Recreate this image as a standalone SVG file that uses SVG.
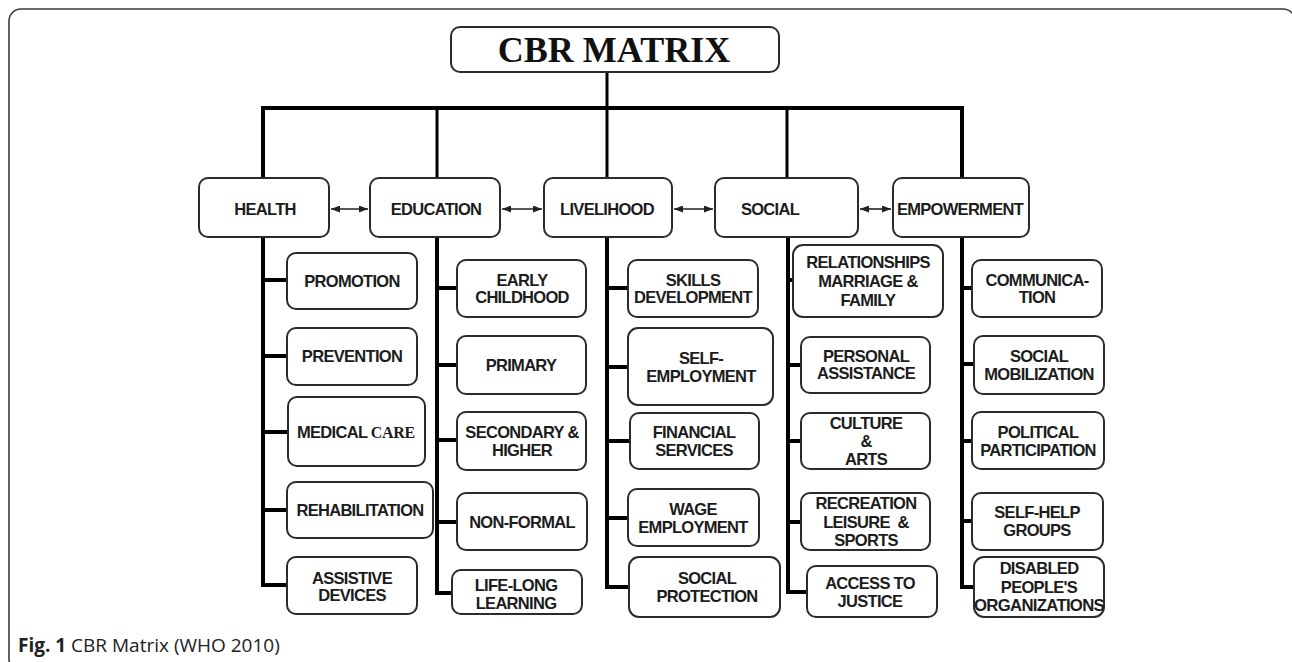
<svg xmlns="http://www.w3.org/2000/svg" width="1292" height="662" viewBox="0 0 1292 662">
<style>
.frame{fill:none;stroke:#3a3a3a;stroke-width:1.6}
.box{fill:#fff;stroke:#2b2b2b;stroke-width:2}
.t{font-family:"Liberation Sans",Arial,sans-serif;font-weight:bold;font-size:16.5px;letter-spacing:-0.7px;fill:#1c1c1c;text-anchor:middle}
.title{font-family:"Liberation Serif","Times New Roman",serif;font-weight:bold;font-size:36px;fill:#111;text-anchor:middle}
.serif{font-family:"Liberation Serif","Times New Roman",serif;font-size:16px;letter-spacing:-0.3px}
.bus{fill:none;stroke:#000;stroke-width:4}
.drop{fill:none;stroke:#000;stroke-width:3}
.trunk{fill:none;stroke:#000;stroke-width:4}
.arr{stroke:#222;stroke-width:1.6;fill:none;marker-start:url(#ah);marker-end:url(#ah)}
.cap{font-family:"Open Sans","Noto Sans",sans-serif;font-size:19px;fill:#222}
</style>
<defs>
<marker id="ah" viewBox="0 0 9 7" refX="9" refY="3.5" markerWidth="9" markerHeight="7" markerUnits="userSpaceOnUse" orient="auto-start-reverse">
<path d="M0,0 L9,3.5 L0,7 z" fill="#222"/>
</marker>
</defs>
<rect class="frame" x="9" y="9" width="1286" height="662" rx="12"/>

<g id="connectors">
<path class="drop" d="M607,72 V108"/>
<path class="bus" d="M263,178 V108 H962 V178"/>
<path class="drop" d="M437,108 V178 M607,108 V178 M787,108 V178"/>
<line class="arr" x1="331" y1="209" x2="368" y2="209"/>
<line class="arr" x1="502" y1="209" x2="542" y2="209"/>
<line class="arr" x1="674" y1="209" x2="713" y2="209"/>
<line class="arr" x1="860" y1="209" x2="891" y2="209"/>
<path class="trunk" d="M263,237 V585 H287 M263,280 H287 M263,356 H287 M263,432 H288 M263,510 H287"/>
<path class="trunk" d="M437,237 V593 H452 M437,288 H457 M437,365 H457 M437,440 H457 M437,522 H457"/>
<path class="trunk" d="M607,237 V587 H629 M607,288 H628 M607,367 H628 M607,441 H630 M607,518 H628"/>
<path class="trunk" d="M788,237 V592 H807 M788,280 H793 M788,365 H801 M788,441 H801 M788,522 H801"/>
<path class="trunk" d="M962,237 V587 H974 M962,288 H972 M962,364 H974 M962,441 H972 M962,521 H972"/>
</g>

<g id="title">
<rect class="box" x="451" y="27" width="328" height="45" rx="9"/>
<text class="title" x="614" y="62">CBR MATRIX</text>
</g>

<g id="health"><rect class="box" x="199" y="178" width="130" height="59" rx="9"/><text class="t" x="265" y="215">HEALTH</text></g>
<g id="education"><rect class="box" x="370" y="178" width="130" height="59" rx="9"/><text class="t" x="436" y="215">EDUCATION</text></g>
<g id="livelihood"><rect class="box" x="544" y="178" width="128" height="59" rx="9"/><text class="t" x="607" y="215">LIVELIHOOD</text></g>
<g id="social"><rect class="box" x="715" y="178" width="143" height="59" rx="9"/><text class="t" x="770" y="215">SOCIAL</text></g>
<g id="empowerment"><rect class="box" x="893" y="178" width="136" height="59" rx="9"/><text class="t" x="960" y="215">EMPOWERMENT</text></g>

<g id="promotion"><rect class="box" x="287" y="253" width="130" height="56" rx="9"/><text class="t" x="352" y="287">PROMOTION</text></g>
<g id="prevention"><rect class="box" x="287" y="328" width="130" height="57" rx="9"/><text class="t" x="352" y="362">PREVENTION</text></g>
<g id="medical-care"><rect class="box" x="288" y="397" width="137" height="69" rx="9"/><text class="t" x="356" y="438">MEDICAL <tspan class="serif">CARE</tspan></text></g>
<g id="rehabilitation"><rect class="box" x="287" y="482" width="146" height="56" rx="9"/><text class="t" x="360" y="516">REHABILITATION</text></g>
<g id="assistive-devices"><rect class="box" x="287" y="557" width="130" height="57" rx="9"/><text class="t" x="352" y="584">ASSISTIVE</text><text class="t" x="352" y="601">DEVICES</text></g>

<g id="early-childhood"><rect class="box" x="457" y="260" width="129" height="57" rx="9"/><text class="t" x="522" y="286">EARLY</text><text class="t" x="522" y="303">CHILDHOOD</text></g>
<g id="primary"><rect class="box" x="457" y="336" width="129" height="58" rx="9"/><text class="t" x="521" y="371">PRIMARY</text></g>
<g id="secondary-higher"><rect class="box" x="457" y="412" width="129" height="58" rx="9"/><text class="t" x="522" y="438">SECONDARY &amp;</text><text class="t" x="522" y="456">HIGHER</text></g>
<g id="non-formal"><rect class="box" x="457" y="493" width="130" height="57" rx="9"/><text class="t" x="522" y="528">NON-FORMAL</text></g>
<g id="life-long-learning"><rect class="box" x="452" y="570" width="130" height="44" rx="9"/><text class="t" x="516" y="591">LIFE-LONG</text><text class="t" x="516" y="609">LEARNING</text></g>

<g id="skills-development"><rect class="box" x="628" y="260" width="130" height="57" rx="9"/><text class="t" x="693" y="286">SKILLS</text><text class="t" x="693" y="303">DEVELOPMENT</text></g>
<g id="self-employment"><rect class="box" x="628" y="328" width="145" height="77" rx="10"/><text class="t" x="701" y="364">SELF-</text><text class="t" x="701" y="382">EMPLOYMENT</text></g>
<g id="financial-services"><rect class="box" x="630" y="413" width="129" height="56" rx="9"/><text class="t" x="694" y="438">FINANCIAL</text><text class="t" x="694" y="456">SERVICES</text></g>
<g id="wage-employment"><rect class="box" x="628" y="489" width="131" height="57" rx="9"/><text class="t" x="693" y="515">WAGE</text><text class="t" x="693" y="533">EMPLOYMENT</text></g>
<g id="social-protection"><rect class="box" x="629" y="557" width="151" height="60" rx="10"/><text class="t" x="707" y="584">SOCIAL</text><text class="t" x="707" y="602">PROTECTION</text></g>

<g id="relationships"><rect class="box" x="793" y="245" width="150" height="72" rx="10"/><text class="t" x="868" y="268">RELATIONSHIPS</text><text class="t" x="868" y="287">MARRIAGE &amp;</text><text class="t" x="868" y="306">FAMILY</text></g>
<g id="personal-assistance"><rect class="box" x="801" y="337" width="129" height="56" rx="9"/><text class="t" x="866" y="362">PERSONAL</text><text class="t" x="866" y="379">ASSISTANCE</text></g>
<g id="culture-arts"><rect class="box" x="801" y="413" width="129" height="56" rx="9"/><text class="t" x="866" y="429">CULTURE</text><text class="t" x="866" y="447">&amp;</text><text class="t" x="866" y="465">ARTS</text></g>
<g id="recreation"><rect class="box" x="801" y="493" width="129" height="57" rx="9"/><text class="t" x="866" y="509">RECREATION</text><text class="t" x="866" y="528" xml:space="preserve">LEISURE  &amp;</text><text class="t" x="866" y="546">SPORTS</text></g>
<g id="access-to-justice"><rect class="box" x="807" y="566" width="130" height="51" rx="9"/><text class="t" x="870" y="589">ACCESS TO</text><text class="t" x="870" y="607">JUSTICE</text></g>

<g id="communication"><rect class="box" x="972" y="260" width="130" height="57" rx="9"/><text class="t" x="1037" y="286">COMMUNICA-</text><text class="t" x="1037" y="303">TION</text></g>
<g id="social-mobilization"><rect class="box" x="974" y="336" width="130" height="58" rx="9"/><text class="t" x="1039" y="362">SOCIAL</text><text class="t" x="1039" y="380">MOBILIZATION</text></g>
<g id="political-participation"><rect class="box" x="972" y="412" width="132" height="57" rx="9"/><text class="t" x="1038" y="438">POLITICAL</text><text class="t" x="1038" y="456">PARTICIPATION</text></g>
<g id="self-help-groups"><rect class="box" x="972" y="493" width="131" height="57" rx="9"/><text class="t" x="1037" y="518">SELF-HELP</text><text class="t" x="1037" y="536">GROUPS</text></g>
<g id="dpo"><rect class="box" x="974" y="557" width="130" height="60" rx="10"/><text class="t" x="1039" y="574">DISABLED</text><text class="t" x="1039" y="593">PEOPLE'S</text><text class="t" x="1039" y="611" textLength="130" lengthAdjust="spacingAndGlyphs">ORGANIZATIONS</text></g>

<text class="cap" x="18" y="652"><tspan font-weight="bold">Fig. 1</tspan> CBR Matrix (WHO 2010)</text>
</svg>
